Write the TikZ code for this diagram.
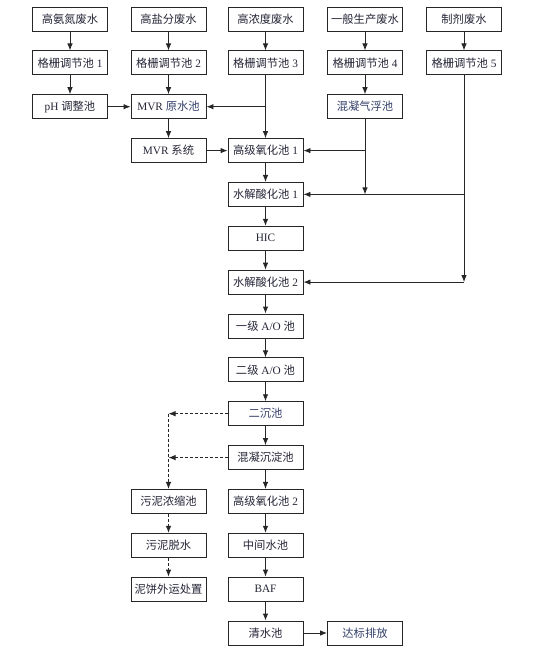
\documentclass[tikz,border=0pt]{standalone}
\usepackage{fontspec}
\setmainfont{Liberation Serif}
\newfontfamily\cjk{Noto Sans CJK SC}
\usetikzlibrary{arrows.meta}
\newcommand{\zh}[1]{{\cjk #1}}
\definecolor{linec}{HTML}{262626}
\definecolor{txt}{HTML}{262638}
\definecolor{txtb}{HTML}{34406A}
\begin{document}
\begin{tikzpicture}[x=1pt,y=-1pt,
 box/.style={draw=linec, line width=0.9pt, minimum width=75pt, minimum height=24pt, inner sep=0pt, font=\fontsize{11.3}{13}\selectfont, text=txt},
 arr/.style={draw=linec, line width=0.9pt, -{Latex[length=7pt,width=5.5pt]}},
 ln/.style={draw=linec, line width=0.9pt},
 dsh/.style={arr, dash pattern=on 3pt off 2pt}]
\fill[white] (0,0) rectangle (554,660);
\useasboundingbox (0,0) rectangle (554,660);
% row 0
\node[box] (a0) at (70,19) {\zh{高氨氮废水}};
\node[box] (b0) at (168.5,19) {\zh{高盐分废水}};
\node[box] (c0) at (265.5,19) {\zh{高浓度废水}};
\node[box] (d0) at (365,19) {\zh{一般生产废水}};
\node[box] (e0) at (464,19) {\zh{制剂废水}};
% row 1
\node[box] (a1) at (70,62.9) {\zh{格栅调节池} 1};
\node[box] (b1) at (168.5,62.9) {\zh{格栅调节池} 2};
\node[box] (c1) at (265.5,62.9) {\zh{格栅调节池} 3};
\node[box] (d1) at (365,62.9) {\zh{格栅调节池} 4};
\node[box] (e1) at (464,62.9) {\zh{格栅调节池} 5};
% row 2
\node[box] (a2) at (70,106.7) {pH \zh{调整池}};
\node[box] (b2) at (168.5,106.7) {MVR \textcolor{txtb}{\zh{原水池}}};
\node[box,text=txtb] (d2) at (365,106.7) {\zh{混凝气浮池}};
% row 3
\node[box] (b3) at (168.5,150.6) {MVR \zh{系统}};
\node[box] (c3) at (265.5,150.6) {\zh{高级氧化池} 1};
% main chain
\node[box] (c4) at (265.5,194.4) {\zh{水解酸化池} 1};
\node[box] (c5) at (265.5,238.3) {HIC};
\node[box] (c6) at (265.5,282.1) {\zh{水解酸化池} 2};
\node[box] (c7) at (265.5,326) {\zh{一级} A/O \zh{池}};
\node[box] (c8) at (265.5,369.9) {\zh{二级} A/O \zh{池}};
\node[box,text=txtb] (c9) at (265.5,413.7) {\zh{二沉池}};
\node[box] (c10) at (265.5,457.6) {\zh{混凝沉淀池}};
\node[box] (c11) at (265.5,501.4) {\zh{高级氧化池} 2};
\node[box] (c12) at (265.5,545.3) {\zh{中间水池}};
\node[box] (c13) at (265.5,589.1) {BAF};
\node[box] (c14) at (265.5,633) {\zh{清水池}};
\node[box,text=txtb] (d14) at (365,633) {\zh{达标排放}};
% sludge
\node[box] (b11) at (168.5,501.4) {\zh{污泥浓缩池}};
\node[box] (b12) at (168.5,545.3) {\zh{污泥脱水}};
\node[box] (b13) at (168.5,589.1) {\zh{泥饼外运处置}};
% connectors
\draw[arr] (a0) -- (a1);
\draw[arr] (a1) -- (a2);
\draw[arr] (a2) -- (b2);
\draw[arr] (b0) -- (b1);
\draw[arr] (b1) -- (b2);
\draw[arr] (b2) -- (b3);
\draw[arr] (b3) -- (c3);
\draw[arr] (c0) -- (c1);
\draw[arr] (c1) -- (c3);
\coordinate (j3) at (c1 |- b2);
\draw[arr] (j3) -- (b2.east);
\draw[arr] (d0) -- (d1);
\draw[arr] (d1) -- (d2);
\coordinate (j4a) at (d2 |- c3);
\coordinate (j4b) at (d2 |- c4);
\draw[ln] (d2) -- (j4a);
\draw[arr] (j4a) -- (j4b);
\draw[arr] (j4a) -- (c3.east);
\draw[arr] (e0) -- (e1);
\coordinate (j5a) at (e1 |- c4);
\coordinate (j5b) at (e1 |- c6);
\draw[ln] (e1) -- (j5a);
\draw[arr] (j5a) -- (j5b);
\draw[arr] (j5a) -- (c4.east);
\draw[arr] (j5b) -- (c6.east);
\draw[arr] (c3) -- (c4);
\draw[arr] (c4) -- (c5);
\draw[arr] (c5) -- (c6);
\draw[arr] (c6) -- (c7);
\draw[arr] (c7) -- (c8);
\draw[arr] (c8) -- (c9);
\draw[arr] (c9) -- (c10);
\draw[arr] (c10) -- (c11);
\draw[arr] (c11) -- (c12);
\draw[arr] (c12) -- (c13);
\draw[arr] (c13) -- (c14);
\draw[arr] (c14) -- (d14);
\coordinate (s1) at (b11 |- c9);
\coordinate (s2) at (b11 |- c10);
\draw[dsh] (c9.west) -- (s1);
\draw[dsh] (c10.west) -- (s2);
\draw[dsh] (s1) -- (b11.north);
\draw[dsh] (b11) -- (b12);
\draw[dsh] (b12) -- (b13);
\end{tikzpicture}
\end{document}
